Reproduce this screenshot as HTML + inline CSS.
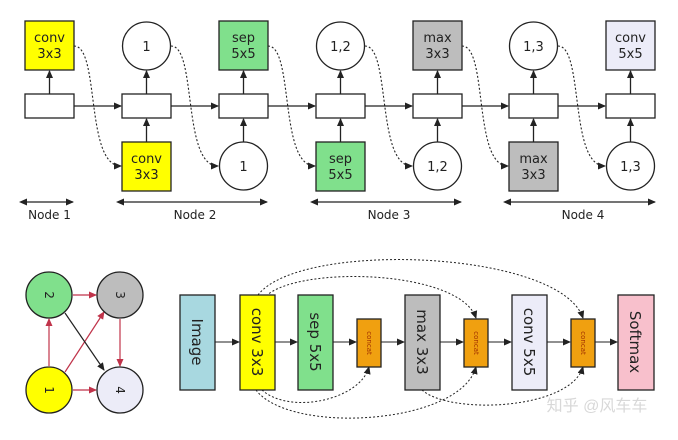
<!DOCTYPE html>
<html><head><meta charset="utf-8"><style>
body{margin:0;background:#fff;width:678px;height:435px;overflow:hidden}
svg{font-family:"DejaVu Sans","Liberation Sans",sans-serif}
</style></head><body>
<svg width="678" height="435" viewBox="0 0 678 435" xmlns="http://www.w3.org/2000/svg">
<defs>
<marker id="a" markerWidth="8" markerHeight="8" refX="7" refY="4" orient="auto" markerUnits="userSpaceOnUse"><path d="M0,0.5 L8,4 L0,7.5 Z" fill="#222"/></marker>
<marker id="r" markerWidth="8" markerHeight="8" refX="7" refY="4" orient="auto" markerUnits="userSpaceOnUse"><path d="M0,0.5 L8,4 L0,7.5 Z" fill="#c0334a"/></marker>
<marker id="s" markerWidth="8" markerHeight="8" refX="1" refY="4" orient="auto-start-reverse" markerUnits="userSpaceOnUse"><path d="M0,0.5 L8,4 L0,7.5 Z" fill="#222"/></marker>
</defs>
<g stroke="#222" stroke-width="1.3" font-size="13" text-anchor="middle">
<!-- state rects -->
<g fill="#fff">
<rect x="25" y="94" width="49" height="24"/><rect x="122" y="94" width="49" height="24"/><rect x="219" y="94" width="49" height="24"/><rect x="316" y="94" width="49" height="24"/><rect x="413" y="94" width="49" height="24"/><rect x="509" y="94" width="49" height="24"/><rect x="606" y="94" width="49" height="24"/>
</g>
<!-- horizontal arrows -->
<g fill="none" marker-end="url(#a)">
<path d="M74,106 H121"/><path d="M171,106 H218"/><path d="M268,106 H315"/><path d="M365,106 H412"/><path d="M462,106 H508"/><path d="M558,106 H605"/>
<!-- up arrows -->
<path d="M49.5,94 V71"/><path d="M146.5,94 V71"/><path d="M243.5,94 V71"/><path d="M340.5,94 V71"/><path d="M437.5,94 V71"/><path d="M533.5,94 V71"/><path d="M630.5,94 V71"/>
<path d="M146.5,142 V119"/><path d="M243.5,142 V119"/><path d="M340.5,142 V119"/><path d="M437.5,142 V119"/><path d="M533.5,142 V119"/><path d="M630.5,142 V119"/>
</g>
<!-- top items -->
<rect x="25" y="21" width="49" height="49" fill="#ffff00"/>
<circle cx="146.5" cy="46" r="24" fill="#fff"/>
<rect x="219" y="21" width="49" height="49" fill="#80e08c"/>
<circle cx="340.5" cy="46" r="24" fill="#fff"/>
<rect x="413" y="21" width="49" height="49" fill="#bdbdbd"/>
<circle cx="533.5" cy="46" r="24" fill="#fff"/>
<rect x="606" y="21" width="49" height="49" fill="#ececf8"/>
<!-- bottom items -->
<rect x="122" y="142" width="49" height="49" fill="#ffff00"/>
<circle cx="243.5" cy="166" r="24" fill="#fff"/>
<rect x="316" y="142" width="49" height="49" fill="#80e08c"/>
<circle cx="437.5" cy="166" r="24" fill="#fff"/>
<rect x="509" y="142" width="49" height="49" fill="#bdbdbd"/>
<circle cx="630.5" cy="166" r="24" fill="#fff"/>
<!-- dotted curves -->
<g fill="none" stroke-dasharray="2,2" stroke-width="1.1" marker-end="url(#a)">
<path d="M74,46 C100,46 85,166 121,166"/>
<path d="M171,46 C197,46 182,166 218,166"/>
<path d="M268,46 C294,46 279,166 315,166"/>
<path d="M365,46 C391,46 376,166 412,166"/>
<path d="M462,46 C488,46 473,166 508,166"/>
<path d="M558,46 C584,46 569,166 605,166"/>
</g>
<!-- node spans -->
<g fill="none" marker-start="url(#s)" marker-end="url(#a)">
<path d="M26,202 H73"/><path d="M123,202 H267"/><path d="M317,202 H461"/><path d="M510,202 H655"/>
</g>
<g stroke="none" fill="#222">
<text x="49.5" y="42">conv</text><text x="49.5" y="58">3x3</text>
<text x="146.5" y="51">1</text>
<text x="243.5" y="42">sep</text><text x="243.5" y="58">5x5</text>
<text x="340.5" y="51">1,2</text>
<text x="437.5" y="42">max</text><text x="437.5" y="58">3x3</text>
<text x="533.5" y="51">1,3</text>
<text x="630.5" y="42">conv</text><text x="630.5" y="58">5x5</text>
<text x="146.5" y="163">conv</text><text x="146.5" y="179">3x3</text>
<text x="243.5" y="171">1</text>
<text x="340.5" y="163">sep</text><text x="340.5" y="179">5x5</text>
<text x="437.5" y="171">1,2</text>
<text x="533.5" y="163">max</text><text x="533.5" y="179">3x3</text>
<text x="630.5" y="171">1,3</text>
<text x="49.5" y="219" font-size="12">Node 1</text>
<text x="195" y="219" font-size="12">Node 2</text>
<text x="389" y="219" font-size="12">Node 3</text>
<text x="583" y="219" font-size="12">Node 4</text>
</g>

<!-- small graph -->
<g fill="none" stroke-width="1.2">
<path d="M49,366 V319" stroke="#c0334a" marker-end="url(#r)"/>
<path d="M73,295 H96" stroke="#c0334a" marker-end="url(#r)"/>
<path d="M73,390 H96" stroke="#c0334a" marker-end="url(#r)"/>
<path d="M120,319 V366" stroke="#c0334a" marker-end="url(#r)"/>
<path d="M65,372 L104,312" stroke="#c0334a" marker-end="url(#r)"/>
<path d="M65,313 L104,370" stroke="#222" marker-end="url(#a)"/>
</g>
<circle cx="49" cy="295" r="23" fill="#80e08c"/>
<circle cx="120" cy="295" r="23" fill="#bdbdbd"/>
<circle cx="49" cy="390" r="23" fill="#ffff00"/>
<circle cx="120" cy="390" r="23" fill="#ececf8"/>
<g stroke="none" fill="#222" font-size="12">
<text transform="translate(45,295) rotate(90)">2</text>
<text transform="translate(116,295) rotate(90)">3</text>
<text transform="translate(45,390) rotate(90)">1</text>
<text transform="translate(116,390) rotate(90)">4</text>
</g>

<!-- pipeline -->
<g fill="none" stroke-width="1.1" marker-end="url(#a)">
<path d="M215,342 H239"/><path d="M275,342 H297"/><path d="M333,342 H356"/><path d="M381,342 H404"/><path d="M440,342 H463"/><path d="M488,342 H511"/><path d="M547,342 H570"/><path d="M595,342 H617"/>
</g>
<g fill="none" stroke-width="1" stroke-dasharray="2,2" marker-end="url(#a)">
<path d="M258,295 C300,240 560,250 583,318"/>
<path d="M266,296 C300,265 460,270 476,318"/>
<path d="M262,390 C290,415 360,400 369,367"/>
<path d="M256,390 C290,435 460,425 476,367"/>
<path d="M422,390 C450,415 570,410 583,367"/>
</g>
<rect x="180" y="295" width="35" height="95" fill="#a8d8e0"/>
<rect x="240" y="295" width="35" height="95" fill="#ffff00"/>
<rect x="298" y="295" width="35" height="95" fill="#80e08c"/>
<rect x="357" y="319" width="24" height="48" fill="#f0a010"/>
<rect x="405" y="295" width="35" height="95" fill="#bdbdbd"/>
<rect x="464" y="319" width="24" height="48" fill="#f0a010"/>
<rect x="512" y="295" width="35" height="95" fill="#ececf8"/>
<rect x="571" y="319" width="24" height="48" fill="#f0a010"/>
<rect x="618" y="295" width="36" height="95" fill="#f8c0cc"/>
<g stroke="none" fill="#222" font-size="15">
<text transform="translate(192,342) rotate(90)">Image</text>
<text transform="translate(252,342) rotate(90)">conv 3x3</text>
<text transform="translate(310,342) rotate(90)">sep 5x5</text>
<text transform="translate(417,342) rotate(90)">max 3x3</text>
<text transform="translate(524,342) rotate(90)">conv 5x5</text>
<text transform="translate(630,342) rotate(90)">Softmax</text>
<g font-size="7" fill="#a03000">
<text transform="translate(367,343) rotate(90)">concat</text>
<text transform="translate(474,343) rotate(90)">concat</text>
<text transform="translate(581,343) rotate(90)">concat</text>
</g>
<text x="597" y="411" font-size="16" fill="#d8d8d8" font-family="'Liberation Sans','Noto Sans CJK SC',sans-serif">知乎 @风车车</text>
</g>
</g>
</svg>
</body></html>
